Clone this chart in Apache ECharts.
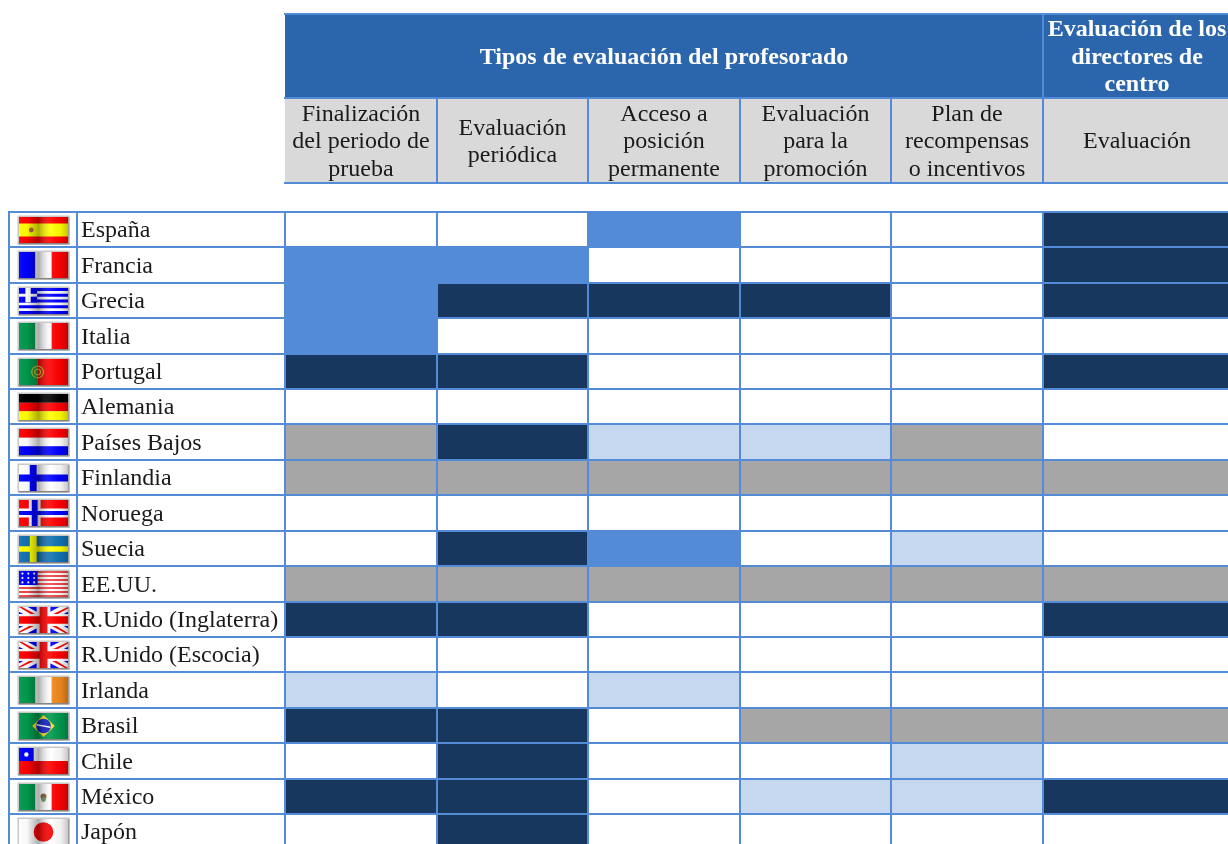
<!DOCTYPE html>
<html><head><meta charset="utf-8">
<style>html,body{margin:0;padding:0;background:#fff;overflow:hidden}#c{width:1228px;height:844px}</style>
<script src="https://cdn.jsdelivr.net/npm/echarts@6/dist/echarts.min.js"></script>
</head><body><div id="c"></div>
<script>
const mainHeader = ['Tipos de evaluación del profesorado'];
const directorHeader = ['Evaluación de los\ndirectores de\ncentro'];
const teacherTypes = ['Finalización\ndel periodo de\nprueba','Evaluación\nperiódica','Acceso a\nposición\npermanente','Evaluación\npara la\npromoción','Plan de\nrecompensas\no incentivos'];
const directorTypes = ['Evaluación'];
const countries = ['España','Francia','Grecia','Italia','Portugal','Alemania','Países Bajos','Finlandia','Noruega','Suecia','EE.UU.','R.Unido (Inglaterra)','R.Unido (Escocia)','Irlanda','Brasil','Chile','México','Japón'];
const flagCodes = ['es','fr','gr','it','pt','de','nl','fi','no','se','us','uk','uk','ie','br','cl','mx','jp'];
// 0 none, 1 light, 2 mid, 3 dark, 4 grey
const finalizacion = [0,2,2,2,3,0,4,4,0,0,4,3,0,1,3,0,3,0];
const periodica    = [0,2,3,0,3,0,3,4,0,3,4,3,0,0,3,3,3,3];
const permanente   = [2,0,3,0,0,0,1,4,0,2,4,0,0,1,0,0,0,0];
const promocion    = [0,0,3,0,0,0,1,4,0,0,4,0,0,0,4,0,1,0];
const incentivos   = [0,0,0,0,0,0,4,4,0,1,4,0,0,0,4,1,1,0];
const directores   = [3,3,3,0,3,0,0,4,0,0,4,3,0,0,4,0,3,0];
const teacherColumns = [finalizacion,periodica,permanente,promocion,incentivos];

const palette = ['#FFFFFF','#C6D8F0','#548BD6','#17375E','#A6A6A6'];
const LINE = '#548BD6', HEAD = '#2B66AD', SUB = '#D9D9D9', INK = '#1a1a1a';
const FONT = '"Liberation Serif","Times New Roman",serif';
const FS = 24;

const chart = echarts.init(document.getElementById('c'), null, {renderer:'canvas', width:1228, height:844});
const grids=[], xAxes=[], yAxes=[], series=[];
function addGrid(left,top,width,height,xCats,yCats,inverse){
  const i=grids.length;
  grids.push({left,top,width,height,containLabel:false,show:false,outerBoundsMode:'none'});
  xAxes.push({type:'category',gridIndex:i,data:xCats,show:false,boundaryGap:true});
  yAxes.push({type:'category',gridIndex:i,data:yCats,show:false,boundaryGap:true,inverse:!!inverse});
  return i;
}
function edges(api,x,y){
  const c=api.coord([x,y]), s=api.size([1,1]);
  const x0=Math.round(c[0]-s[0]/2), x1=Math.round(c[0]+s[0]/2);
  const y0=Math.round(c[1]-s[1]/2), y1=Math.round(c[1]+s[1]/2);
  return {x0,x1,y0,y1,w:x1-x0,h:y1-y0};
}
function txt(x,y,text,opt){
  return {type:'text',x,y:y+1.5,z2:9,silent:true,style:Object.assign({text,font:FS+'px '+FONT,fill:INK,align:'center',verticalAlign:'middle',lineHeight:27.5},opt||{})};
}
function line(x1,y1,x2,y2){
  return {type:'line',z2:5,silent:true,shape:{x1,y1,x2,y2},style:{stroke:LINE,lineWidth:2,fill:null}};
}
function headerSeries(gridIndex,labels,fill,fontOpt,z){
  series.push({type:'custom',xAxisIndex:gridIndex,yAxisIndex:gridIndex,coordinateSystem:'cartesian2d',animation:false,silent:true,clip:false,z,
    encode:{x:0,y:1},data:labels.map((l,i)=>[i,0]),
    renderItem(p,api){
      const e=edges(api,api.value(0),api.value(1));
      return {type:'group',children:[
        {type:'rect',shape:{x:e.x0,y:e.y0,width:e.w,height:e.h},style:{fill}},
        line(e.x0-1,e.y0,e.x1+1,e.y0),
        line(e.x0-1,e.y1,e.x1+1,e.y1),
        line(e.x1,e.y0,e.x1,e.y1),
        txt((e.x0+e.x1)/2,(e.y0+e.y1)/2,labels[p.dataIndex],fontOpt)
      ]};
    }});
}
function bodySeries(gridIndex,columns){
  const data=[];
  columns.forEach((col,x)=>col.forEach((v,y)=>data.push([x,y,v])));
  series.push({type:'custom',xAxisIndex:gridIndex,yAxisIndex:gridIndex,coordinateSystem:'cartesian2d',animation:false,silent:true,clip:false,
    encode:{x:0,y:1},data,
    renderItem(p,api){
      const e=edges(api,api.value(0),api.value(1));
      return {type:'rect',shape:{x:e.x0,y:e.y0,width:e.w,height:e.h},style:{fill:palette[api.value(2)],stroke:LINE,lineWidth:2}};
    }});
}
// flag drawing in a unit box
function flagShapes(code){
  const R='#FF0000',B='#0000FF',W='#FFFFFF',Y='#FFFF00',G='#009A4E',K='#000000';
  const r=(x,y,w,h,f)=>({k:'r',x,y,w,h,f});
  const c=(x,y,rad,f,s)=>({k:'c',x,y,rad,f,s});
  const p=(pts,f)=>({k:'p',pts,f});
  const vert=(a,b,d)=>[r(0,0,1/3,1,a),r(1/3,0,1/3,1,b),r(2/3,0,1/3+.001,1,d)];
  const hori=(a,b,d)=>[r(0,0,1,1/3,a),r(0,1/3,1,1/3,b),r(0,2/3,1,1/3+.001,d)];
  switch(code){
    case 'es': return [r(0,0,1,1,R),r(0,.25,1,.5,Y),c(.25,.5,.05,'#B5653A')];
    case 'fr': return vert(B,W,R);
    case 'it': return vert(G,W,R);
    case 'ie': return vert(G,W,'#F08A1C');
    case 'de': return hori(K,R,Y);
    case 'nl': return hori(R,W,B);
    case 'pt': return [r(0,0,.38,1,G),r(.38,0,.62,1,R),c(.38,.5,.12,null,'#C8B820'),c(.38,.5,.06,null,'#C8B820')];
    case 'gr': { const o=[r(0,0,1,1,B)];
      for(let i=1;i<9;i+=2) o.push(r(0,i/9,1,1/9,W));
      o.push(r(0,0,.37,5/9,B),r(0,2/9,.37,1/9,W),r(.13,0,.11,5/9,W)); return o; }
    case 'fi': return [r(0,0,1,1,W),r(.22,0,.14,1,B),r(0,.37,1,.26,B)];
    case 'no': return [r(0,0,1,1,R),r(.2,0,.24,1,W),r(0,.33,1,.34,W),r(.26,0,.12,1,B),r(0,.42,1,.16,B)];
    case 'se': return [r(0,0,1,1,'#1273B5'),r(.22,0,.14,1,Y),r(0,.39,1,.22,Y)];
    case 'us': { const o=[r(0,0,1,1,W)];
      for(let i=0;i<13;i+=2) o.push(r(0,i/13,1,1/13,'#F04848'));
      o.push(r(0,0,.38,7/13,B));
      for(let a=0;a<3;a++) for(let b=0;b<3;b++) o.push(c(.07+b*.12,.1+a*.17,.022,W));
      return o; }
    case 'uk': return [r(0,0,1,1,B),
      p([[0,0],[.18,0],[1,.82],[1,1],[.82,1],[0,.18]],W),
      p([[1,0],[.82,0],[0,.82],[0,1],[.18,1],[1,.18]],W),
      p([[0,0],[.06,0],[.5,.44],[.44,.5]],R), p([[1,1],[.94,1],[.5,.56],[.56,.5]],R),
      p([[1,0],[1,.06],[.56,.5],[.5,.44]],R), p([[0,1],[0,.94],[.44,.5],[.5,.56]],R),
      r(.36,0,.28,1,W),r(0,.27,1,.46,W),r(.42,0,.16,1,R),r(0,.36,1,.28,R)];
    case 'br': return [r(0,0,1,1,G),p([[.5,.08],[.73,.5],[.5,.92],[.27,.5]],'#F2E21A'),c(.5,.5,.15,'#1020C8'),p([[.36,.42],[.64,.52],[.64,.58],[.36,.48]],W)];
    case 'cl': return [r(0,0,1,.5,W),r(0,.5,1,.5,R),r(0,0,.3,.5,B),c(.15,.25,.045,W)];
    case 'mx': return [...vert(G,W,R),c(.5,.48,.06,'#8A5A2B'),c(.5,.6,.05,'#5F9F5F')];
    case 'jp': return [r(0,0,1,1,W),c(.5,.5,.2,R)];
  }
  return [];
}
function flagSeries(gridIndex){
  series.push({type:'custom',xAxisIndex:gridIndex,yAxisIndex:gridIndex,coordinateSystem:'cartesian2d',animation:false,silent:true,clip:false,
    encode:{x:0,y:1},data:countries.map((c,i)=>[0,i]),
    renderItem(p,api){
      const e=edges(api,0,api.value(1));
      const W=49,H=26,ox=e.x0+10,oy=Math.round((e.y0+e.y1)/2-H/2);
      const children=[
        {type:'rect',shape:{x:e.x0,y:e.y0,width:e.w,height:e.h},style:{fill:'#fff',stroke:LINE,lineWidth:2}},
        {type:'rect',shape:{x:ox-1.5,y:oy-1.5,width:W+3,height:H+3},style:{fill:'#C8C8C8'}},
        {type:'rect',shape:{x:ox-.5,y:oy+H,width:W+2,height:1.5},style:{fill:'#858585'}},
        {type:'rect',shape:{x:ox+W,y:oy,width:1.5,height:H+1},style:{fill:'#A0A0A0'}}
      ];
      flagShapes(flagCodes[p.dataIndex]).forEach(s=>{
        if(s.k==='r') children.push({type:'rect',shape:{x:ox+s.x*W,y:oy+s.y*H,width:s.w*W,height:s.h*H},style:{fill:s.f}});
        else if(s.k==='c') children.push({type:'circle',shape:{cx:ox+s.x*W,cy:oy+s.y*H,r:s.rad*W},style:s.s?{fill:null,stroke:s.s,lineWidth:1.2}:{fill:s.f}});
        else children.push({type:'polygon',shape:{points:s.pts.map(q=>[ox+q[0]*W,oy+q[1]*H])},style:{fill:s.f}});
      });
      children.push({type:'rect',shape:{x:ox,y:oy,width:W,height:H},style:{fill:new echarts.graphic.LinearGradient(0,0,1,0,[
        {offset:0,color:'rgba(255,255,255,0.06)'},
        {offset:.16,color:'rgba(0,0,0,0.02)'},
        {offset:.4,color:'rgba(0,0,0,0.32)'},
        {offset:.66,color:'rgba(255,255,255,0.08)'},
        {offset:.85,color:'rgba(0,0,0,0.05)'},
        {offset:1,color:'rgba(0,0,0,0.22)'}])}});
      return {type:'group',children};
    }});
}
function nameSeries(gridIndex){
  series.push({type:'custom',xAxisIndex:gridIndex,yAxisIndex:gridIndex,coordinateSystem:'cartesian2d',animation:false,silent:true,clip:false,
    encode:{x:0,y:1},data:countries.map((c,i)=>[0,i]),
    renderItem(p,api){
      const e=edges(api,0,api.value(1));
      return {type:'group',children:[
        {type:'rect',shape:{x:e.x0,y:e.y0,width:e.w,height:e.h},style:{fill:'#fff',stroke:LINE,lineWidth:2}},
        txt(e.x0+4,(e.y0+e.y1)/2,countries[p.dataIndex],{align:'left'})
      ]};
    }});
}
const ROW=35.41, N=countries.length, BH=ROW*N, TOP=212;
const boldWhite={font:'bold '+FS+'px '+FONT,fill:'#fff'};
headerSeries(addGrid(285,14,758,84,mainHeader,['a']),mainHeader,HEAD,boldWhite,2);
headerSeries(addGrid(1043,14,188,84,directorHeader,['a']),directorHeader,HEAD,boldWhite,2);
headerSeries(addGrid(285,98,758,85,teacherTypes,['b']),teacherTypes,SUB,undefined,1);
headerSeries(addGrid(1043,98,188,85,directorTypes,['b']),directorTypes,SUB,undefined,1);
flagSeries(addGrid(9,TOP,68,BH,['flag'],countries,true));
nameSeries(addGrid(77,TOP,208,BH,['name'],countries,true));
bodySeries(addGrid(285,TOP,758,BH,teacherTypes,countries,true),teacherColumns);
bodySeries(addGrid(1043,TOP,188,BH,directorTypes,countries,true),[directores]);
chart.setOption({animation:false,backgroundColor:'#fff',tooltip:{show:false},grid:grids,xAxis:xAxes,yAxis:yAxes,series});
</script></body></html>
